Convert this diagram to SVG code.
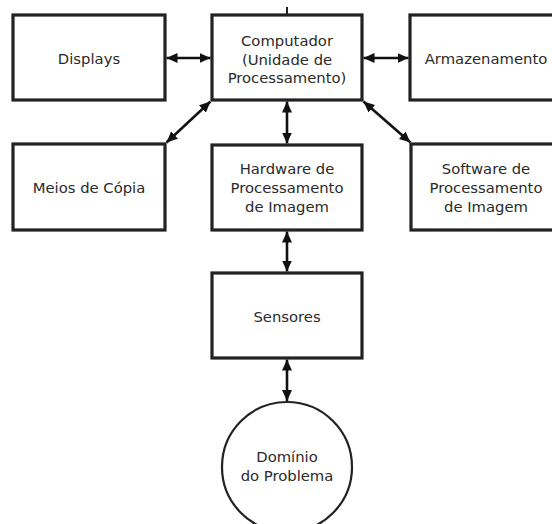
<svg xmlns="http://www.w3.org/2000/svg" width="552" height="524" viewBox="0 0 552 524">
  <defs>
    <marker id="ah" viewBox="0 0 11 10" refX="11" refY="5" markerWidth="11" markerHeight="10" markerUnits="userSpaceOnUse" orient="auto-start-reverse">
      <path d="M0,0 L11,5 L0,10 z" fill="#111"/>
    </marker>
  </defs>
  <style>
    .box { fill: #fff; stroke: #222; stroke-width: 3.2; }
    .circ { fill: #fff; stroke: #222; stroke-width: 2.2; }
    .lbl { font-family: "DejaVu Sans", sans-serif; font-size: 14.8px; fill: #2a2a2a; text-anchor: middle; }
    .conn { stroke: #111; stroke-width: 2.6; fill: none; marker-start: url(#ah); marker-end: url(#ah); }
  </style>
  <rect width="552" height="524" fill="#fff"/>

  <g id="connectors">
    <line x1="287" y1="7" x2="287" y2="15" stroke="#222" stroke-width="2"/>
    <line class="conn" x1="166.5" y1="58" x2="210.5" y2="58"/>
    <line class="conn" x1="363.5" y1="58" x2="408.5" y2="58"/>
    <line class="conn" x1="287" y1="101.5" x2="287" y2="143.5"/>
    <line class="conn" x1="210.5" y1="101.5" x2="166.5" y2="142.5"/>
    <line class="conn" x1="363.5" y1="101.5" x2="410.5" y2="142.5"/>
    <line class="conn" x1="287" y1="231.5" x2="287" y2="271.5"/>
    <line class="conn" x1="287" y1="359.5" x2="287" y2="401"/>
  </g>

  <g id="displays">
    <rect class="box" x="13" y="15" width="152" height="85"/>
    <text class="lbl" x="89" y="64">Displays</text>
  </g>
  <g id="computador">
    <rect class="box" x="212" y="15" width="150" height="85"/>
    <text class="lbl" x="287" y="46">Computador</text>
    <text class="lbl" x="287" y="64.5">(Unidade de</text>
    <text class="lbl" x="287" y="83">Processamento)</text>
  </g>
  <g id="armazenamento">
    <rect class="box" x="410" y="15" width="152" height="85"/>
    <text class="lbl" x="486" y="64">Armazenamento</text>
  </g>
  <g id="meios">
    <rect class="box" x="13" y="144" width="152" height="86"/>
    <text class="lbl" x="89" y="193">Meios de Cópia</text>
  </g>
  <g id="hardware">
    <rect class="box" x="212" y="145" width="150" height="85"/>
    <text class="lbl" x="287" y="174">Hardware de</text>
    <text class="lbl" x="287" y="193">Processamento</text>
    <text class="lbl" x="287" y="212">de Imagem</text>
  </g>
  <g id="software">
    <rect class="box" x="411" y="144" width="152" height="86"/>
    <text class="lbl" x="486" y="174">Software de</text>
    <text class="lbl" x="486" y="193">Processamento</text>
    <text class="lbl" x="486" y="212">de Imagem</text>
  </g>
  <g id="sensores">
    <rect class="box" x="212" y="273" width="150" height="85"/>
    <text class="lbl" x="287" y="322">Sensores</text>
  </g>
  <g id="dominio">
    <circle class="circ" cx="287" cy="467" r="65"/>
    <text class="lbl" x="287" y="462">Domínio</text>
    <text class="lbl" x="287" y="481">do Problema</text>
  </g>
</svg>
